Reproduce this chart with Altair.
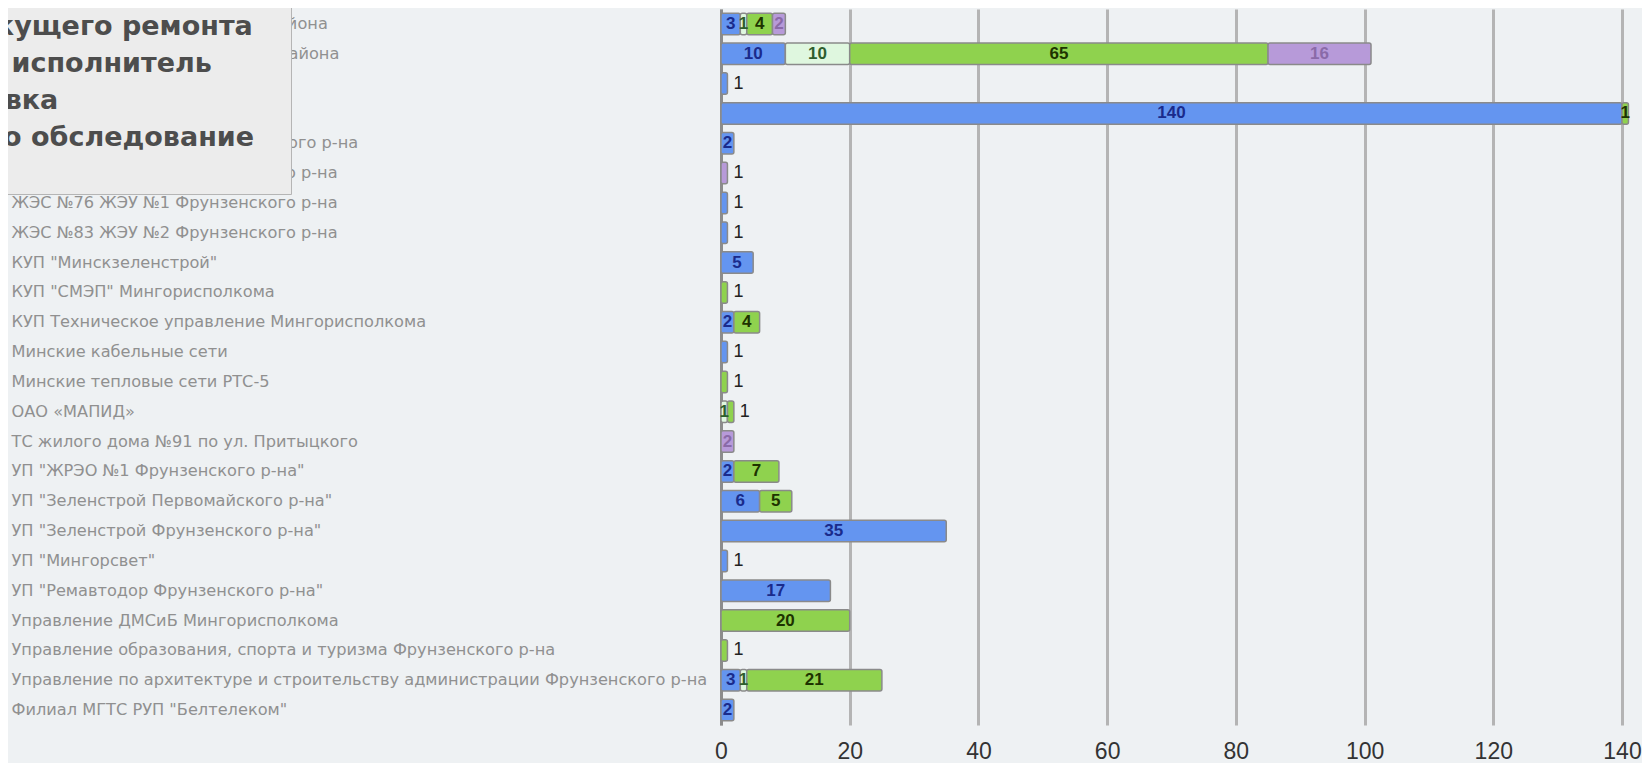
import altair as alt
import pandas as pd

categories = [
    "Администрация Московского района",
    "Администрация Фрунзенского района",
    "ГП \"Минскводоканал\"",
    "ГП \"Минсктранс\"",
    "ЖЭС №104 ЖЭУ №10 Фрунзенского р-на",
    "ЖЭС №57 ЖЭУ №3 Фрунзенского р-на",
    "ЖЭС №76 ЖЭУ №1 Фрунзенского р-на",
    "ЖЭС №83 ЖЭУ №2 Фрунзенского р-на",
    "КУП \"Минскзеленстрой\"",
    "КУП \"СМЭП\" Мингорисполкома",
    "КУП Техническое управление Мингорисполкома",
    "Минские кабельные сети",
    "Минские тепловые сети РТС-5",
    "ОАО «МАПИД»",
    "ТС жилого дома №91 по ул. Притыцкого",
    "УП \"ЖРЭО №1 Фрунзенского р-на\"",
    "УП \"Зеленстрой Первомайского р-на\"",
    "УП \"Зеленстрой Фрунзенского р-на\"",
    "УП \"Мингорсвет\"",
    "УП \"Ремавтодор Фрунзенского р-на\"",
    "Управление ДМСиБ Мингорисполкома",
    "Управление образования, спорта и туризма Фрунзенского р-на",
    "Управление по архитектуре и строительству администрации Фрунзенского р-на",
    "Филиал МГТС РУП \"Белтелеком\"",
]

series = [
    "Требует текущего ремонта",
    "Определён исполнитель",
    "Подана заявка",
    "Необходимо обследование",
]

blue_vals = [3, 10, 1, 140, 2, 0, 1, 1, 5, 0, 2, 1, 0, 0, 0, 2, 6, 35, 1, 17, 0, 0, 3, 2]
light_vals = [1, 10, 0, 0, 0, 0, 0, 0, 0, 0, 0, 0, 0, 1, 0, 0, 0, 0, 0, 0, 0, 0, 1, 0]
green_vals = [4, 65, 0, 1, 0, 0, 0, 0, 0, 1, 4, 0, 1, 1, 0, 7, 5, 0, 0, 0, 20, 1, 21, 0]
purple_vals = [2, 16, 0, 0, 0, 1, 0, 0, 0, 0, 0, 0, 0, 0, 2, 0, 0, 0, 0, 0, 0, 0, 0, 0]

x_ticks = [0, 20, 40, 60, 80, 100, 120, 140]
x_max = 140

bar_colors = ["#6495f0", "#dff7df", "#8fd24e", "#b79ad9"]
text_colors = ["#1a2b8c", "#2e5e2e", "#1e3300", "#8a6aa8"]

rows = []
all_vals = [blue_vals, light_vals, green_vals, purple_vals]
for i, cat in enumerate(categories):
    segs = [(series[k], all_vals[k][i]) for k in range(4) if all_vals[k][i] > 0]
    start = 0
    for j, (s, v) in enumerate(segs):
        last = j == len(segs) - 1
        rows.append({
            "cat": cat,
            "series": s,
            "val": v,
            "start": start,
            "end": start + v,
            "mid": start + v / 2,
            "outside": bool(last and v == 1 and start + v < x_max),
        })
        start += v
df = pd.DataFrame(rows)

y_enc = alt.Y(
    "cat:N",
    sort=categories,
    scale=alt.Scale(paddingInner=0.28, paddingOuter=0.14),
    axis=alt.Axis(
        title=None,
        labelAlign="left",
        labelPadding=710,
        ticks=False,
        domain=True,
        domainColor="#8c8c8c",
        domainWidth=3,
        labelFont="DejaVu Sans",
        labelFontSize=16.2,
        labelColor="#909090",
        labelLimit=720,
    ),
)

x_axis = alt.Axis(
    title=None,
    values=x_ticks,
    grid=True,
    gridColor="#b4b4b4",
    gridWidth=3,
    domain=False,
    ticks=False,
    labelFont="Liberation Sans",
    labelFontSize=23,
    labelColor="#333333",
    labelPadding=15,
    labelFlush=False,
)
x_scale = alt.Scale(domain=[0, x_max], nice=False)

base = alt.Chart(df)

bars = base.mark_bar(stroke="#8a8a8a", strokeWidth=1.5, cornerRadius=2).encode(
    y=y_enc,
    x=alt.X("start:Q", scale=x_scale, axis=x_axis),
    x2="end:Q",
    color=alt.Color(
        "series:N",
        sort=series,
        scale=alt.Scale(domain=series, range=bar_colors),
        legend=alt.Legend(
            orient="none",
            direction="vertical",
            legendX=-936,
            legendY=-6,
            title="\u2800" * 23,
            titleOrient="bottom",
            titleFont="DejaVu Sans",
            titleFontSize=27,
            titleColor="#ececec",
            titleLimit=1200,
            titlePadding=7,
            labelFont="DejaVu Sans",
            labelFontSize=27,
            labelFontWeight="bold",
            labelColor="#4d4d4d",
            labelLimit=1200,
            symbolType="square",
            symbolSize=480,
            symbolStrokeColor="#888888",
            fillColor="#ececec",
            strokeColor="#b5b5b5",
            padding=10,
            rowPadding=8,
        ),
    ),
)

inside = base.transform_filter("!datum.outside").mark_text(
    font="Liberation Sans", fontWeight="bold", fontSize=17
).encode(
    y=alt.Y("cat:N", sort=categories),
    x=alt.X("mid:Q", scale=x_scale),
    text="val:Q",
    color=alt.Color("series:N", scale=alt.Scale(domain=series, range=text_colors), legend=None),
)

outside = base.transform_filter("datum.outside").mark_text(
    font="Liberation Sans", fontSize=18, align="left", dx=6, color="#222222"
).encode(
    y=alt.Y("cat:N", sort=categories),
    x=alt.X("end:Q", scale=x_scale),
    text="val:Q",
)

chart = (
    alt.layer(bars, inside, outside)
    .resolve_scale(color="independent")
    .properties(
        width=901,
        height=716,
        autosize=alt.AutoSizeParams(type="none"),
        padding={"left": 713, "top": 1, "right": 20, "bottom": 38},
        background="#eef1f3",
    )
    .configure_view(stroke=None)
)

chart.save("out.html", embed_options={"renderer": "svg", "actions": False})
